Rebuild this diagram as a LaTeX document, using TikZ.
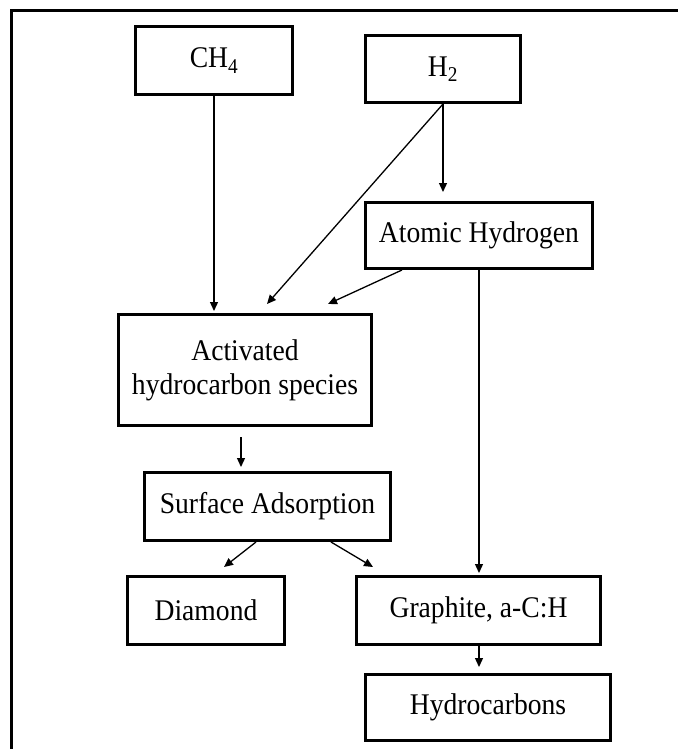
\documentclass[tikz,border=0pt]{standalone}
\usepackage{fontspec}
\setmainfont{Liberation Serif}[FakeStretch=0.92]
\usetikzlibrary{arrows.meta}
\begin{document}
\begin{tikzpicture}[x=1bp,y=-1bp,
  box/.style={draw, line width=3bp, rectangle, inner sep=0pt, align=center,
    font=\fontsize{30bp}{34bp}\selectfont},
  conn/.style={line width=1.3bp, -{Triangle[length=9bp,width=8bp]}},
  frame/.style={line width=3bp}]
\useasboundingbox (0,0) rectangle (678,749);
\coordinate (fbl) at (11,749);
\coordinate (ftl) at (11,11);
\coordinate (ftr) at (678,11);
\draw[frame] (fbl) -- (ftl) -- (ftr);

\node[box, minimum width=157bp, minimum height=68bp] (ch4) at (214,60.5) {CH\textsubscript{4}};
\node[box, minimum width=155bp, minimum height=67bp] (h2) at (443,69) {H\textsubscript{2}};
\node[box, minimum width=227bp, minimum height=66bp] (atom) at (479,235.5) {Atomic Hydrogen};
\node[box, minimum width=253bp, minimum height=111bp] (act) at (245,370) {Activated\\hydrocarbon species};
\node[box, minimum width=246bp, minimum height=68bp] (surf) at (267.5,506.5) {Surface Adsorption};
\node[box, minimum width=157bp, minimum height=68bp] (dia) at (206,610.5) {Diamond};
\node[box, minimum width=244bp, minimum height=68bp] (gra) at (478.5,610.5) {Graphite, a-C:H};
\node[box, minimum width=245bp, minimum height=66bp] (hyd) at (488,707.5) {Hydrocarbons};

\coordinate (t1) at (267,304);
\coordinate (s2) at (402,270);
\coordinate (t2) at (328,304);
\coordinate (a1) at (241,437);
\coordinate (a2) at (241,467);
\coordinate (s3) at (256,542);
\coordinate (t3) at (224,567);
\coordinate (s4) at (331,542);
\coordinate (t4) at (373,567);
\coordinate (s5) at (479,646);
\coordinate (t5) at (479,667);

\draw[conn, shorten >=2bp] (ch4.south) -- (ch4.south |- act.north);
\draw[conn, shorten >=9bp] (h2.south) -- (h2.south |- atom.north);
\draw[conn] (h2.south) -- (t1);
\draw[conn] (s2) -- (t2);
\draw[conn, shorten >=2bp] (atom.south) -- (atom.south |- gra.north);
\draw[conn] (a1) -- (a2);
\draw[conn] (s3) -- (t3);
\draw[conn] (s4) -- (t4);
\draw[conn] (s5) -- (t5);
\end{tikzpicture}
\end{document}
